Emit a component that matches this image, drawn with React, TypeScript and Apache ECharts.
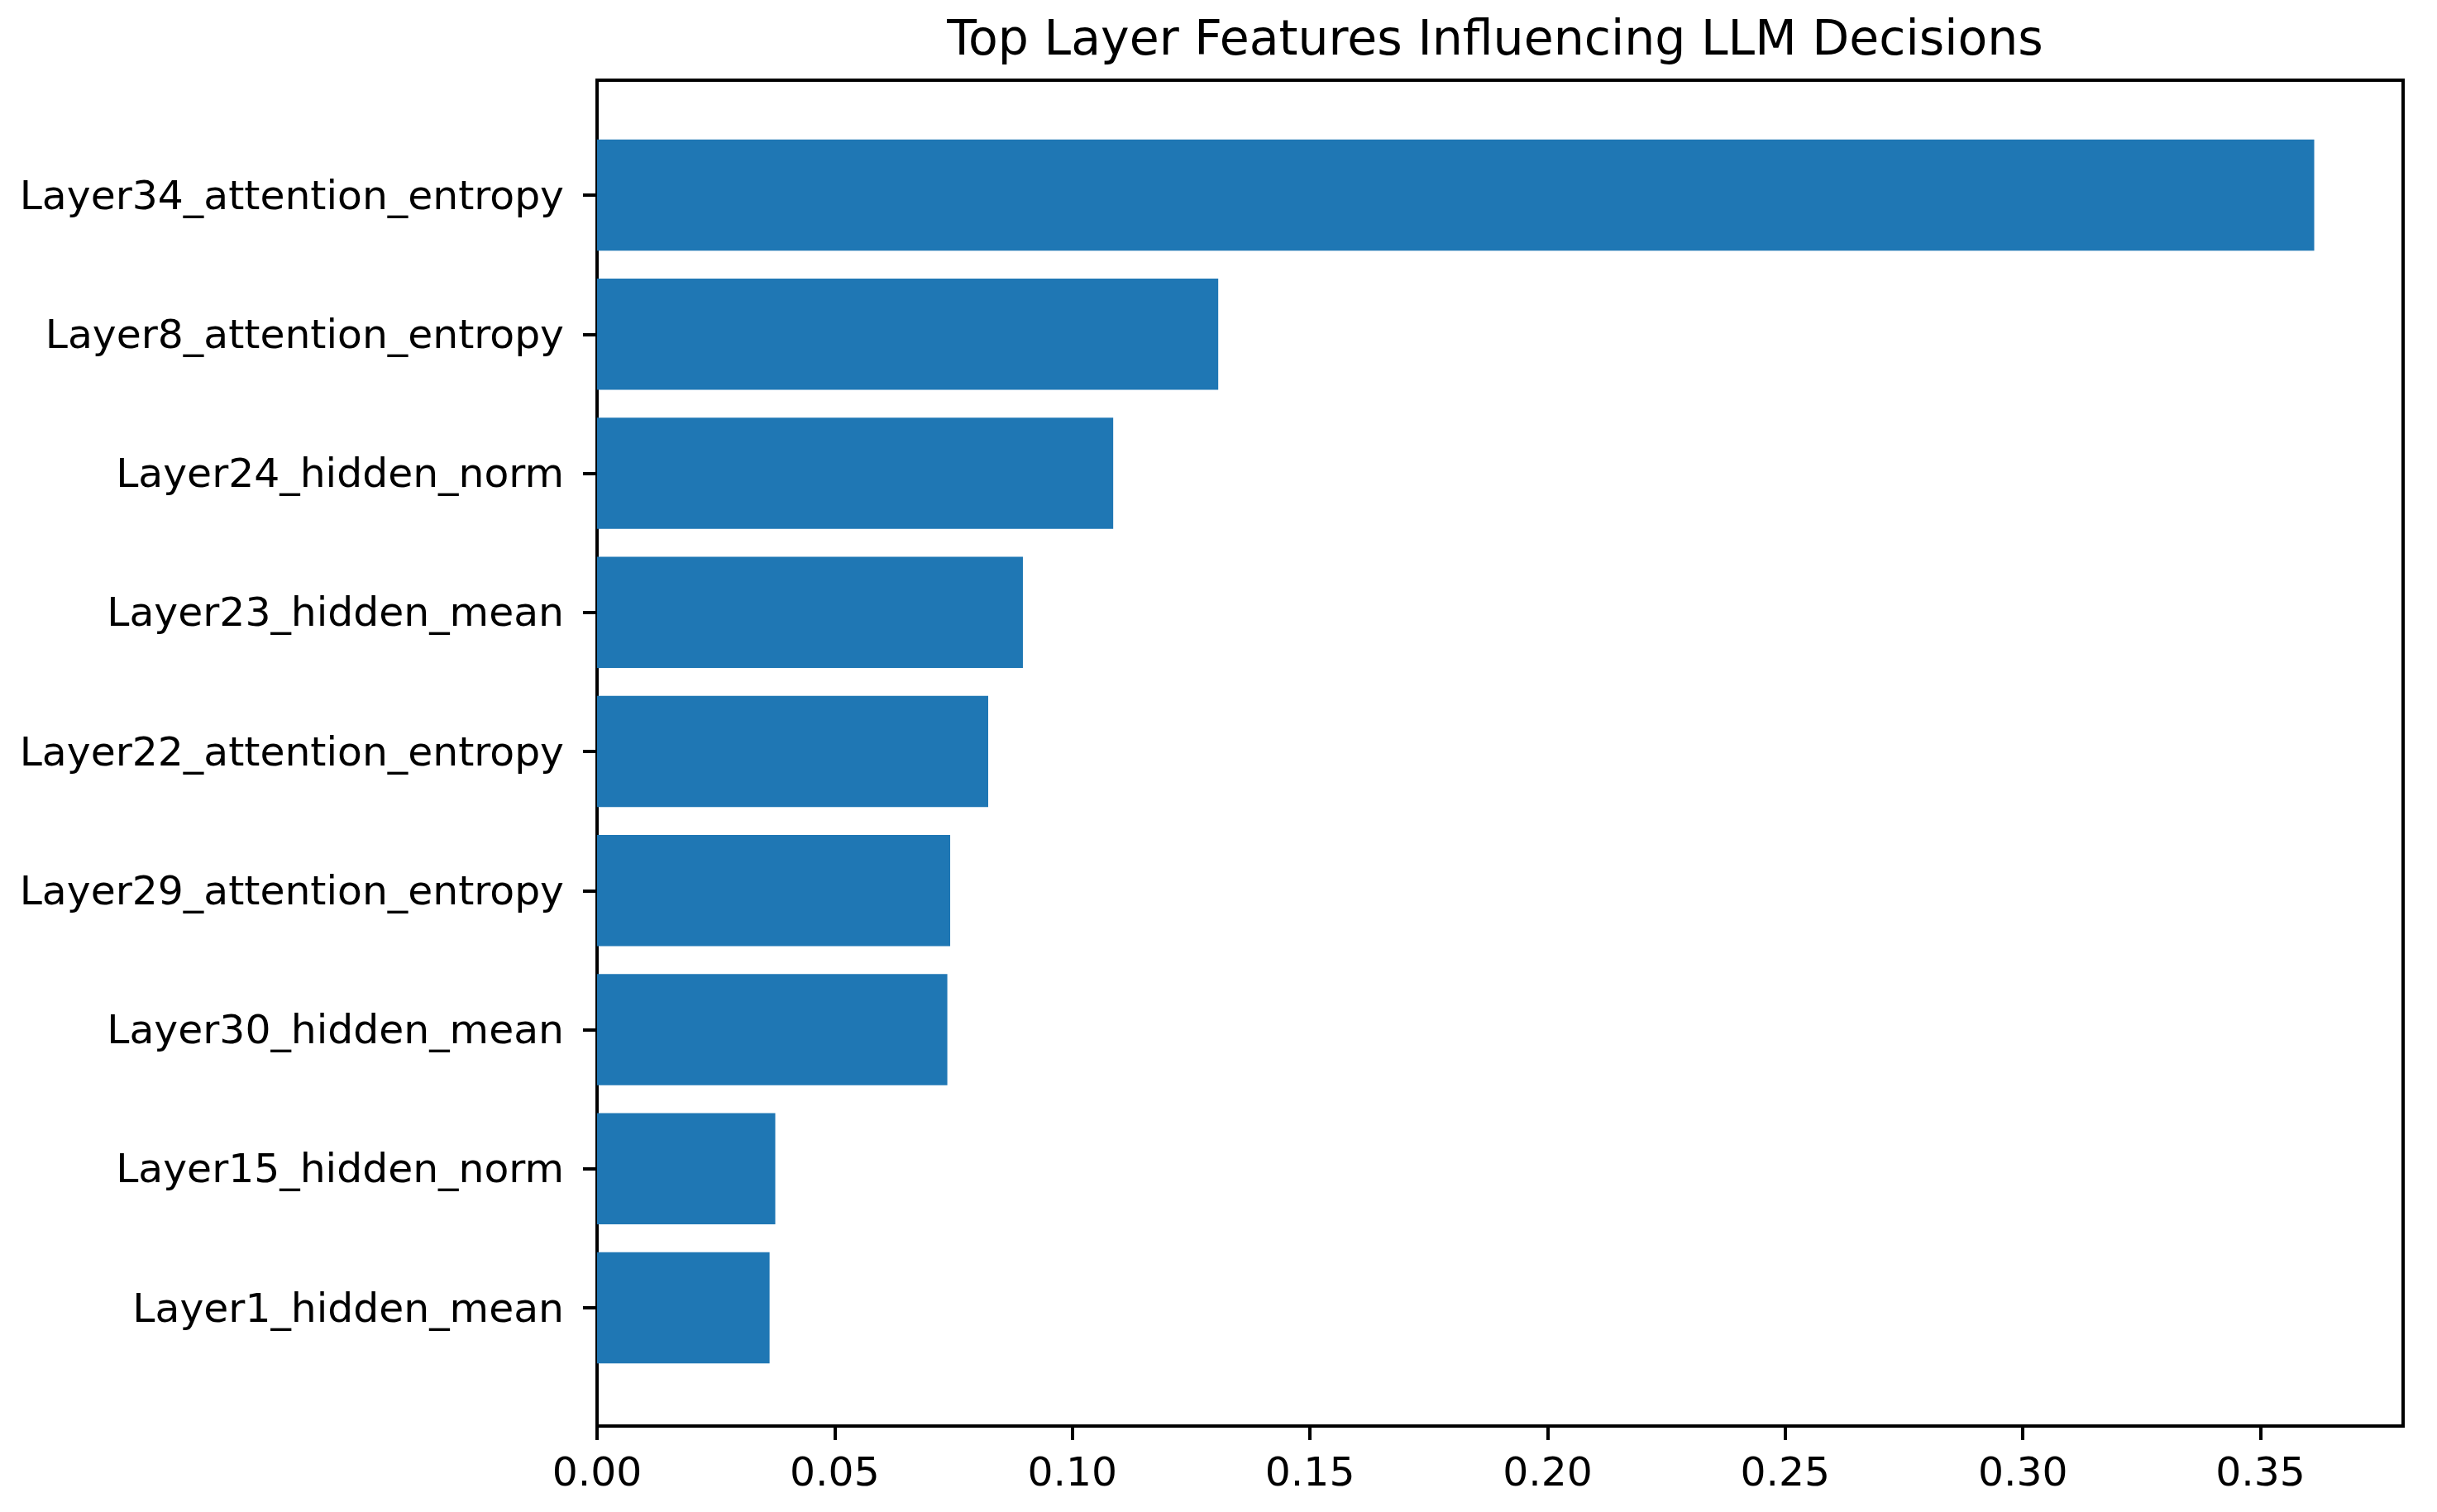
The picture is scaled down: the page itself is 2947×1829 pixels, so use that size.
import React, { useEffect, useRef } from "react";
import * as echarts from "echarts";

const TITLE = "Top Layer Features Influencing LLM Decisions";

const features = [
  "Layer34_attention_entropy",
  "Layer8_attention_entropy",
  "Layer24_hidden_norm",
  "Layer23_hidden_mean",
  "Layer22_attention_entropy",
  "Layer29_attention_entropy",
  "Layer30_hidden_mean",
  "Layer15_hidden_norm",
  "Layer1_hidden_mean",
];

const importance = [0.3613, 0.1307, 0.1086, 0.0896, 0.0823, 0.0743, 0.0737, 0.0375, 0.0363];

const xTicks = [0, 0.05, 0.1, 0.15, 0.2, 0.25, 0.3, 0.35];
const X_MAX = 0.38;

const FONT = "DejaVu Sans";

export default function App() {
  const ref = useRef<HTMLDivElement>(null);

  useEffect(() => {
    if (!ref.current) return;
    const chart = echarts.init(ref.current, undefined, { renderer: "svg" });
    const plotLeft = 722;
    const plotRight = 2906;
    const plotTop = 97;
    const plotBottom = 1725;
    const band = 168.25;
    const firstCenter = 236;
    const catTop = firstCenter - band / 2;
    const catBottom = catTop + band * features.length;

    chart.setOption({
      animation: false,
      backgroundColor: "#ffffff",
      textStyle: { fontFamily: FONT },
      graphic: [
        {
          type: "text",
          x: 1808,
          y: 16,
          style: {
            text: TITLE,
            fontFamily: FONT,
            fontSize: 58.5,
            fill: "#000000",
            textAlign: "center",
            textVerticalAlign: "top",
          },
        },
      ],
      grid: [
        {
          left: plotLeft,
          right: 2947 - plotRight,
          top: plotTop,
          bottom: 1829 - plotBottom,
          show: true,
          borderColor: "#000000",
          borderWidth: 4,
          backgroundColor: "transparent",
          containLabel: false,
        },
        {
          left: plotLeft,
          right: 2947 - plotRight,
          top: catTop,
          bottom: 1829 - catBottom,
          show: false,
          containLabel: false,
        },
      ],
      xAxis: [
        {
          type: "value",
          gridIndex: 0,
          min: 0,
          max: X_MAX,
          splitLine: { show: false },
          axisLine: { show: false },
          axisTick: {
            show: true,
            length: 17,
            inside: false,
            lineStyle: { color: "#000000", width: 4 },
            customValues: xTicks,
          },
          axisLabel: {
            show: true,
            margin: 31,
            fontFamily: FONT,
            fontSize: 48.8,
            color: "#000000",
            customValues: xTicks,
            formatter: (v: number) => v.toFixed(2),
          },
        },
        {
          type: "value",
          gridIndex: 1,
          min: 0,
          max: X_MAX,
          show: false,
          splitLine: { show: false },
        },
      ],
      yAxis: [
        {
          type: "value",
          gridIndex: 0,
          min: 0,
          max: 1,
          show: false,
          splitLine: { show: false },
        },
        {
          type: "category",
          gridIndex: 1,
          data: features,
          inverse: true,
          splitLine: { show: false },
          axisLine: { show: false },
          axisTick: {
            show: true,
            alignWithLabel: true,
            length: 17,
            inside: false,
            lineStyle: { color: "#000000", width: 4 },
          },
          axisLabel: {
            show: true,
            margin: 40,
            fontFamily: FONT,
            fontSize: 48.8,
            color: "#000000",
            padding: [8, 0, 0, 0],
          },
        },
      ],
      series: [
        {
          type: "bar",
          xAxisIndex: 1,
          yAxisIndex: 1,
          data: importance,
          barWidth: band * 0.8,
          itemStyle: { color: "#1f77b4" },
        },
      ],
    });

    return () => {
      chart.dispose();
    };
  }, []);

  return (
    <div
      ref={ref}
      style={{ position: "fixed", left: 0, top: 0, width: 2947, height: 1829, background: "#fff" }}
    />
  );
}
